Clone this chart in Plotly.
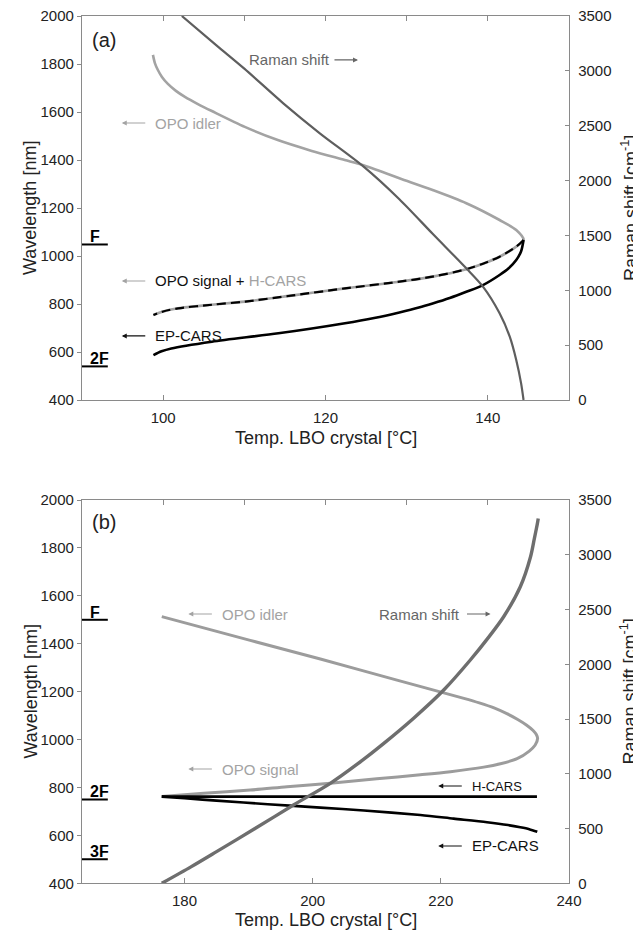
import plotly.graph_objects as go

# ---------------- Panel (a) data ----------------
idler_a_T = [98.74, 98.98, 99.35, 99.85, 100.58, 101.57, 102.68, 104.28, 106.0, 110.06, 114.12, 118.31, 122.37, 124.58, 129.1, 133.2, 137.35, 141.45, 143.5, 144.4]
idler_a_wl = [1838, 1804, 1775, 1746, 1717, 1688, 1663, 1633, 1604, 1538, 1483, 1438, 1400, 1379, 1324, 1275, 1220, 1150, 1108, 1067]

signal_a_T = [144.4, 143.5, 141.45, 139.4, 137.35, 133.2, 129.1, 122.4, 116.0, 110.1, 106.0, 101.85, 100.0, 98.8]
signal_a_wl = [1067, 1039, 997, 968, 945, 914, 893, 865, 836, 810, 797, 782, 769, 754]

ep_a_T = [98.8, 99.8, 101.0, 106.0, 114.2, 122.4, 126.0, 129.1, 131.5, 133.2, 135.3, 137.35, 139.4, 141.45, 142.6, 143.5, 144.1, 144.4]
ep_a_wl = [587, 603, 615, 643, 678, 720, 742, 765, 785, 802, 825, 851, 879, 921, 950, 983, 1020, 1067]

raman_a_T = [102.3, 106.6, 110.0, 114.8, 119.3, 124.7, 129.1, 133.2, 137.35, 139.4, 141.45, 142.7, 143.5, 144.1, 144.4]
raman_a_cm = [3500, 3230, 3020, 2704, 2431, 2127, 1830, 1515, 1200, 1033, 790, 577, 365, 152, 0]

levels_a_names = ["F", "2F"]
levels_a_wl = [1048, 540]

# ---------------- Panel (b) data ----------------
idler_b_T = [176.45, 190.25, 201.2, 213.3, 223.6, 226.0, 228.3, 230.3, 232.0, 233.4, 234.4, 234.9, 235.1]
idler_b_wl = [1513, 1414, 1336, 1247, 1172, 1153, 1132, 1108, 1084, 1060, 1038, 1021, 1005]

signal_b_T = [235.1, 234.7, 233.8, 231.9, 229.3, 226.7, 221.5, 216.8, 210.0, 202.75, 196.0, 190.25, 183.0, 176.45]
signal_b_wl = [1005, 976, 952, 920, 899, 885, 866, 853, 836, 818, 803, 789, 776, 762]

hcars_b_T = [176.45, 235.0]
hcars_b_wl = [762, 762]

ep_b_T = [176.45, 180.0, 185.0, 193.0, 201.2, 208.0, 216.8, 222.0, 227.2, 230.5, 232.4, 233.8, 235.05]
ep_b_wl = [762, 755, 745, 730, 716, 704, 685, 670, 655, 643, 634, 626, 615]

raman_b_T = [176.45, 181.0, 185.0, 191.0, 197.0, 202.75, 207.0, 211.1, 215.8, 220.45, 224.6, 227.5, 229.8, 232.4, 234.0, 234.6, 235.05, 235.2]
raman_b_cm = [0, 150, 289, 500, 715, 913, 1090, 1278, 1510, 1765, 2039, 2250, 2434, 2708, 2982, 3150, 3280, 3332]

levels_b_names = ["F", "2F", "3F"]
levels_b_wl = [1500, 750, 500]

# axis ticks
x_a_ticks = [100, 120, 140]
x_b_ticks = [180, 200, 220, 240]
top_ticks = [1, 2, 3, 4, 5]

# ---------------- styling ----------------
FONT = "Liberation Sans, Arial, sans-serif"
AX = "#8a8a8a"
TXT = "#222222"
GREY_L = "#a3a3a3"
GREY_D = "#666666"

# page body has an 8px margin: figure is sized/positioned to compensate
OFF = 8
W, H = 641 - OFF, 939 - OFF

def px(x):
    return (x - OFF) / W

def py(y):
    return 1 - (y - OFF) / H

fig = go.Figure()
SM = 0.8

# Panel (a)
fig.add_trace(go.Scatter(x=idler_a_T + signal_a_T[1:], y=idler_a_wl + signal_a_wl[1:], mode="lines",
                         line=dict(color=GREY_L, width=2.6, shape="spline", smoothing=SM), xaxis="x", yaxis="y"))
fig.add_trace(go.Scatter(x=signal_a_T, y=signal_a_wl, mode="lines",
                         line=dict(color="black", width=2.2, dash="9px,5px", shape="spline", smoothing=SM),
                         xaxis="x", yaxis="y"))
fig.add_trace(go.Scatter(x=ep_a_T, y=ep_a_wl, mode="lines",
                         line=dict(color="black", width=2.6, shape="spline", smoothing=SM), xaxis="x", yaxis="y"))
fig.add_trace(go.Scatter(x=raman_a_T, y=raman_a_cm, mode="lines",
                         line=dict(color="#5e5e5e", width=2.2, shape="spline", smoothing=SM), xaxis="x", yaxis="y2"))
fig.add_trace(go.Scatter(x=[None], y=[None], xaxis="x3", yaxis="y", hoverinfo="skip"))

# Panel (b)
fig.add_trace(go.Scatter(x=idler_b_T + signal_b_T[1:], y=idler_b_wl + signal_b_wl[1:], mode="lines",
                         line=dict(color="#9c9c9c", width=3, shape="spline", smoothing=SM), xaxis="x2", yaxis="y3"))
fig.add_trace(go.Scatter(x=hcars_b_T, y=hcars_b_wl, mode="lines",
                         line=dict(color="black", width=2.6), xaxis="x2", yaxis="y3"))
fig.add_trace(go.Scatter(x=ep_b_T, y=ep_b_wl, mode="lines",
                         line=dict(color="black", width=2.6, shape="spline", smoothing=SM), xaxis="x2", yaxis="y3"))
fig.add_trace(go.Scatter(x=raman_b_T, y=raman_b_cm, mode="lines",
                         line=dict(color="#6e6e6e", width=3.4, shape="spline", smoothing=SM), xaxis="x2", yaxis="y4"))
fig.add_trace(go.Scatter(x=[None], y=[None], xaxis="x4", yaxis="y3", hoverinfo="skip"))

XD = [px(82), px(569)]
YA = [py(400), py(16)]
YB = [py(883.3), py(500)]

tickfont = dict(family=FONT, size=15, color=TXT)
common = dict(showline=True, linecolor=AX, linewidth=1.3, tickcolor=AX, tickwidth=1.2,
              showgrid=False, zeroline=False, tickfont=tickfont, automargin=False,
              ticklabeloverflow="allow")

fig.update_layout(
    width=W, height=H, margin=dict(l=0, r=0, t=0, b=0),
    paper_bgcolor="white", plot_bgcolor="white", showlegend=False,
    font=dict(family=FONT, color=TXT),
    xaxis=dict(domain=XD, anchor="y", range=[90, 150], tickvals=x_a_ticks, ticks="inside",
               ticklen=5, ticklabelstandoff=4, **common),
    xaxis3=dict(overlaying="x", anchor="y", side="top", range=[0, 6], tickvals=top_ticks,
                ticks="inside", ticklen=5, showticklabels=False, **common),
    yaxis=dict(domain=YA, anchor="x", range=[400, 2000], dtick=200, ticks="outside", ticklen=4, **common),
    yaxis2=dict(overlaying="y", anchor="x", side="right", range=[0, 3500], dtick=500,
                ticks="inside", ticklen=4, ticklabelstandoff=5, **common),
    xaxis2=dict(domain=XD, anchor="y3", range=[164, 240], tickvals=x_b_ticks, ticks="inside",
                ticklen=5, ticklabelstandoff=4, **common),
    xaxis4=dict(overlaying="x2", anchor="y3", side="top", range=[0, 6], tickvals=top_ticks,
                ticks="inside", ticklen=5, showticklabels=False, **common),
    yaxis3=dict(domain=YB, anchor="x2", range=[400, 2000], dtick=200, ticks="outside", ticklen=4, **common),
    yaxis4=dict(overlaying="y3", anchor="x2", side="right", range=[0, 3500], dtick=500,
                ticks="inside", ticklen=4, ticklabelstandoff=5, **common),
)

ann = []
shapes = []

def label(x, y, text, color, size=15, xref="x", yref="y", xanchor="left"):
    ann.append(dict(x=x, y=y, xref=xref, yref=yref, text=text, showarrow=False,
                    xanchor=xanchor, yanchor="middle", font=dict(family=FONT, size=size, color=color)))

def arrow(x, y, ax, color, xref="x", yref="y"):
    ann.append(dict(x=x, y=y, xref=xref, yref=yref, text="", showarrow=True, ax=ax, ay=0,
                    arrowhead=2, arrowsize=0.9, arrowwidth=1.1, arrowcolor=color, standoff=0, startstandoff=0))

# panel (a) texts
label(91, 1900, "(a)", TXT, size=20)
label(110.3, 1817, "Raman shift", GREY_D)
arrow(124.0, 1817, -25, GREY_D)
arrow(94.9, 1554, 25, GREY_L)
label(98.7, 1554, "OPO idler", GREY_L)
arrow(94.9, 896, 25, GREY_L)
label(98.7, 896, "OPO signal + <span style='color:%s'>H-CARS</span>" % GREY_L, "#111111")
arrow(94.9, 667, 25, "#111111")
label(98.7, 667, "EP-CARS", "#111111")

# panel (b) texts
label(165.25, 1908, "(b)", TXT, size=20, xref="x2", yref="y3")
arrow(180.6, 1524, 25, GREY_L, xref="x2", yref="y3")
label(185.6, 1524, "OPO idler", GREY_L, xref="x2", yref="y3")
label(210.1, 1524, "Raman shift", GREY_D, xref="x2", yref="y3")
arrow(227.75, 1524, -25, GREY_D, xref="x2", yref="y3")
arrow(180.6, 877, 25, GREY_L, xref="x2", yref="y3")
label(185.6, 877, "OPO signal", GREY_L, xref="x2", yref="y3")
arrow(219.6, 806, 25, "#111111", xref="x2", yref="y3")
label(224.6, 806, "H-CARS", "#111111", size=13, xref="x2", yref="y3")
arrow(219.6, 556, 25, "#111111", xref="x2", yref="y3")
label(224.6, 556, "EP-CARS", "#111111", xref="x2", yref="y3")

# reference levels
for names, wls, xr, yr in [(levels_a_names, levels_a_wl, "x", "y"), (levels_b_names, levels_b_wl, "x2", "y3")]:
    for n, w in zip(names, wls):
        shapes.append(dict(type="line", xref=xr + " domain", yref=yr, x0=0, x1=0.053, y0=w, y1=w,
                           line=dict(color="black", width=2)))
        ann.append(dict(x=0.012, y=w, xref=xr + " domain", yref=yr, text="<b>%s</b>" % n, showarrow=False,
                        xanchor="left", yanchor="bottom", yshift=-3,
                        font=dict(family=FONT, size=16, color="black")))

# axis titles
tfont = dict(family=FONT, size=18, color=TXT)
for yc in [208, 691.5]:
    ann.append(dict(x=px(30), y=py(yc), xref="paper", yref="paper", text="Wavelength [nm]",
                    textangle=-90, showarrow=False, xanchor="center", yanchor="middle", font=tfont))
    ann.append(dict(x=px(629), y=py(yc), xref="paper", yref="paper",
                    text="Raman shift [cm<sup>-1</sup>]",
                    textangle=-90, showarrow=False, xanchor="center", yanchor="middle", font=tfont))
for yc in [438, 920]:
    ann.append(dict(x=px(325.5), y=py(yc), xref="paper", yref="paper", text="Temp. LBO crystal [°C]",
                    showarrow=False, xanchor="center", yanchor="middle", font=tfont))

fig.update_layout(annotations=ann, shapes=shapes)
fig.write_html("out.html")
